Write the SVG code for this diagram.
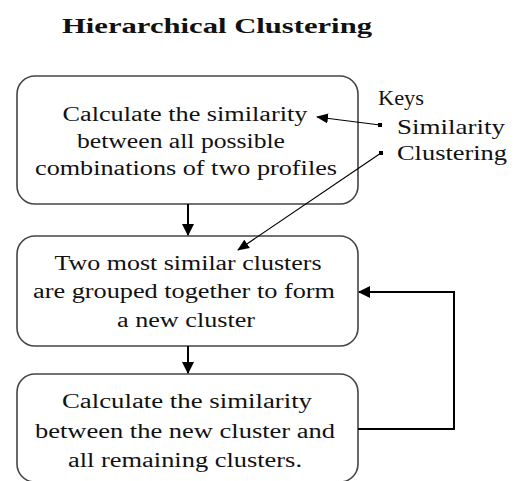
<svg xmlns="http://www.w3.org/2000/svg" width="515" height="481" viewBox="0 0 515 481">
<defs>
<style>
.box{fill:#fff;stroke:#444;stroke-width:1.6}
.t{font-size:20px;fill:#111;text-anchor:middle}
.k{font-size:21px;fill:#111}
.c{fill:none;stroke:#000;stroke-width:2}
.d{fill:none;stroke:#000;stroke-width:1.2}
</style>
<marker id="ah" markerWidth="12" markerHeight="12" refX="11" refY="6" orient="auto" markerUnits="userSpaceOnUse">
<path d="M0,0 L12,6 L0,12 Z" fill="#000"/>
</marker>
<marker id="ahs" markerWidth="12" markerHeight="10" refX="11" refY="5" orient="auto" markerUnits="userSpaceOnUse">
<path d="M0,0 L12,5 L0,10 Z" fill="#000"/>
</marker>
</defs>
<rect width="515" height="481" fill="#fff"/>
<g font-family="Liberation Serif, serif">
<text x="62" y="33" font-size="21" font-weight="bold" fill="#111" textLength="310" lengthAdjust="spacingAndGlyphs">Hierarchical Clustering</text>

<g id="box1">
<rect class="box" x="17" y="76" width="341" height="128" rx="18"/>
<text class="t" x="185" y="121" textLength="245" lengthAdjust="spacingAndGlyphs">Calculate the similarity</text>
<text class="t" x="181" y="148" textLength="208" lengthAdjust="spacingAndGlyphs">between all possible</text>
<text class="t" x="186" y="175" textLength="302" lengthAdjust="spacingAndGlyphs">combinations of two profiles</text>
</g>
<g id="box2">
<rect class="box" x="17" y="236" width="341" height="110" rx="18"/>
<text class="t" x="188" y="270" textLength="267" lengthAdjust="spacingAndGlyphs">Two most similar clusters</text>
<text class="t" x="184" y="298" textLength="302" lengthAdjust="spacingAndGlyphs">are grouped together to form</text>
<text class="t" x="186" y="327" textLength="138" lengthAdjust="spacingAndGlyphs">a new cluster</text>
</g>
<g id="box3">
<rect class="box" x="17" y="374" width="341" height="108" rx="18"/>
<text class="t" x="187" y="408" textLength="250" lengthAdjust="spacingAndGlyphs">Calculate the similarity</text>
<text class="t" x="185" y="438" textLength="300" lengthAdjust="spacingAndGlyphs">between the new cluster and</text>
<text class="t" x="185" y="467" textLength="234" lengthAdjust="spacingAndGlyphs">all remaining clusters.</text>
</g>
<g id="keys">
<text class="k" x="378" y="105" textLength="46" lengthAdjust="spacingAndGlyphs">Keys</text>
<rect x="378" y="123" width="4" height="4" fill="#000"/>
<text class="k" x="397" y="134" textLength="108" lengthAdjust="spacingAndGlyphs">Similarity</text>
<rect x="379" y="151" width="4" height="4" fill="#000"/>
<text class="k" x="397" y="160" textLength="110" lengthAdjust="spacingAndGlyphs">Clustering</text>
</g>
</g>
<g id="connectors">
<line class="c" x1="188" y1="204" x2="188" y2="235" marker-end="url(#ah)"/>
<line class="c" x1="188" y1="346" x2="188" y2="373" marker-end="url(#ah)"/>
<polyline class="c" points="358,429 454,429 454,292 359,292" marker-end="url(#ah)"/>
<line class="d" x1="380" y1="125" x2="317" y2="117" marker-end="url(#ahs)"/>
<line class="d" x1="381" y1="153" x2="238" y2="250" marker-end="url(#ahs)"/>
</g>
</svg>
